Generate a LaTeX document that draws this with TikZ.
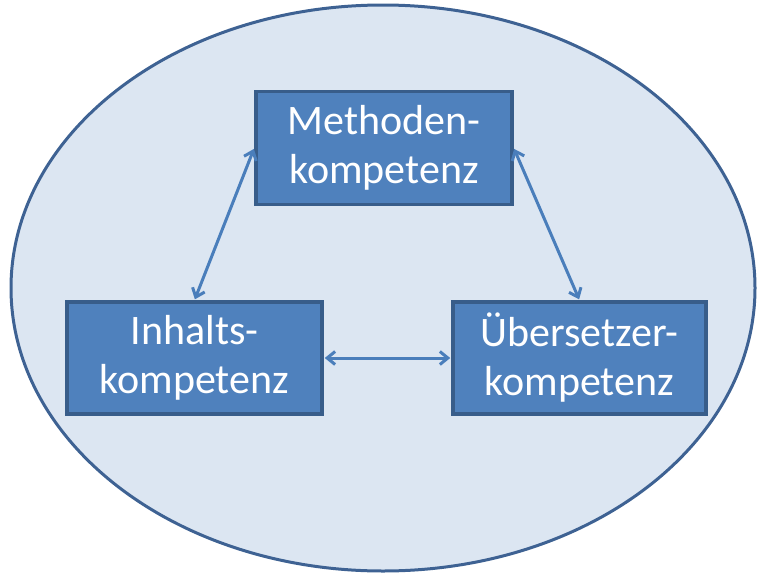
\documentclass[tikz,border=0pt]{standalone}
\usepackage{fontspec}
\setmainfont{Carlito}
\usepackage{xcolor}
\usepackage{tikz}
\usetikzlibrary{arrows.meta, positioning}

\definecolor{ringfill}{HTML}{DCE6F2}
\definecolor{ringline}{HTML}{3E6293}
\definecolor{boxfill}{HTML}{4F81BD}
\definecolor{boxline}{HTML}{385D8A}
\definecolor{linkcol}{HTML}{4A7EBB}

\begin{document}
\begin{tikzpicture}[
    x=1pt, y=-1pt,
    font=\fontsize{42}{49}\selectfont,
    block/.style={
      draw=boxline,
      fill=boxfill,
      line width=3.5pt,
      text=white,
      align=center,
      inner sep=0pt
    },
    link/.style={
      {Straight Barb[length=8pt, width=13pt]}-{Straight Barb[length=8pt, width=13pt]},
      draw=linkcol,
      line width=3pt,
      shorten <=1pt, shorten >=1pt
    }
]
\useasboundingbox (0,0) rectangle (763,576);

% outer ring
\draw[draw=ringline, fill=ringfill, line width=3pt] (383,288) ellipse [x radius=372, y radius=283];

\node[block, minimum width=256pt, minimum height=113pt] (methoden) at (384,148) {Methoden-\\kompetenz};
\node[block, minimum width=255pt, minimum height=112pt] (inhalt) at (194.5,358) {Inhalts-\\kompetenz};
\node[block, minimum width=253pt, minimum height=112pt] (uebersetzer) at (579.5,358) {Übersetzer-\\kompetenz};

\draw[link] (methoden.west) -- (inhalt.north);
\draw[link] (methoden.east) -- (uebersetzer.north);
\draw[link] (inhalt.east) -- (uebersetzer.west);
\end{tikzpicture}
\end{document}
